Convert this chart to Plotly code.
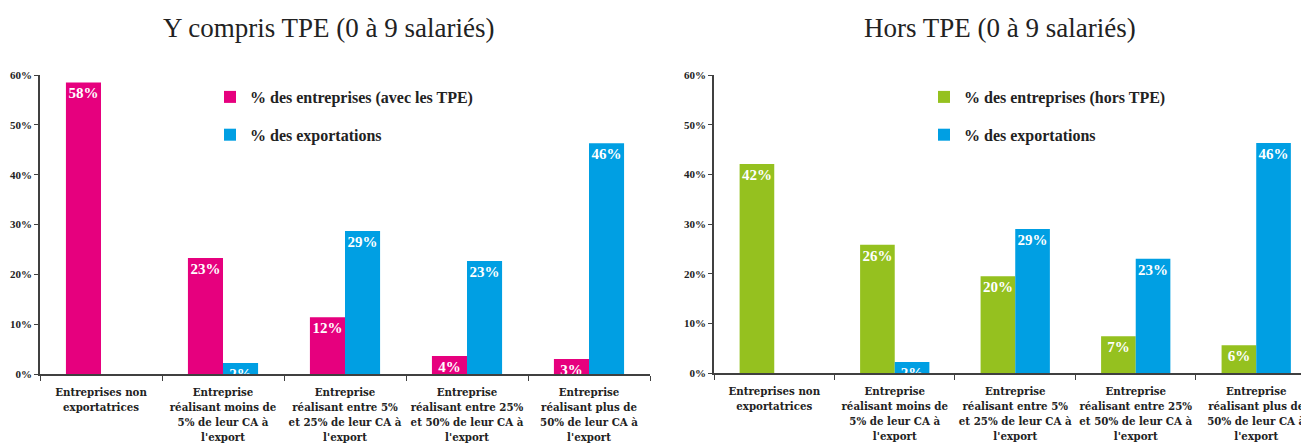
import plotly.graph_objects as go

categories = [
    "Entreprises non<br>exportatrices",
    "Entreprise<br>réalisant moins de<br>5% de leur CA à<br>l'export",
    "Entreprise<br>réalisant entre 5%<br>et 25% de leur CA à<br>l'export",
    "Entreprise<br>réalisant entre 25%<br>et 50% de leur CA à<br>l'export",
    "Entreprise<br>réalisant plus de<br>50% de leur CA à<br>l'export",
]
left_entreprises = [0.585, 0.233, 0.114, 0.036, 0.030]
left_entreprises_lbl = ["58%", "23%", "12%", "4%", "3%"]
left_exports = [None, 0.022, 0.287, 0.227, 0.463]
left_exports_lbl = ["", "2%", "29%", "23%", "46%"]
right_entreprises = [0.421, 0.258, 0.195, 0.074, 0.056]
right_entreprises_lbl = ["42%", "26%", "20%", "7%", "6%"]
right_exports = [None, 0.022, 0.290, 0.230, 0.463]
right_exports_lbl = ["", "2%", "29%", "23%", "46%"]

PINK = "#E6007E"
BLUE = "#009FE3"
GREEN = "#95C11F"
SERIF = "Liberation Serif"
TICKSERIF = "DejaVu Serif Condensed, Liberation Serif"

# the page body has an 8px margin: the figure starts at (8, 8) on screen
OFF = 8
W, H = 1309 - OFF, 444 - OFF


def px(xs):
    return (xs - OFF) / W


def py(ys):
    return (H - (ys - OFF)) / H


fig = go.Figure()


def bar(x, y, txt, color, name, xa, ya, legend, group):
    return go.Bar(
        x=x, y=y, text=txt, name=name, marker=dict(color=color, line=dict(width=0)),
        xaxis=xa, yaxis=ya, legend=legend, legendgroup=group,
        textposition="inside", insidetextanchor="end", constraintext="none",
        textangle=0,
        textfont=dict(family=SERIF, size=15, color="white", weight="bold"),
        cliponaxis=False, hoverinfo="skip",
    )


fig.add_trace(bar(categories, left_entreprises, left_entreprises_lbl, PINK,
                  "% des entreprises (avec les TPE)", "x", "y", "legend", "a"))
fig.add_trace(bar(categories, left_exports, left_exports_lbl, BLUE,
                  "% des exportations", "x", "y", "legend", "b"))
fig.add_trace(bar(categories, right_entreprises, right_entreprises_lbl, GREEN,
                  "% des entreprises (hors TPE)", "x2", "y2", "legend2", "c"))
fig.add_trace(bar(categories, right_exports, right_exports_lbl, BLUE,
                  "% des exportations", "x2", "y2", "legend2", "d"))

ydom_l = [py(374), py(75)]
ydom_r = [py(373), py(75)]
axis_font = dict(family=TICKSERIF, size=11.4, color="#222222", weight="bold")
ytick_font = dict(family=SERIF, size=11, color="#222222", weight="bold")

xcommon = dict(
    type="category", showline=True, linecolor="#404040", linewidth=1.5,
    ticks="outside", ticklen=5, tickcolor="#404040", tickson="boundaries",
    tickfont=axis_font, showgrid=False, zeroline=False, tickangle=0,
    automargin=False, ticklabelstandoff=7,
)
ycommon = dict(
    range=[0, 0.6], dtick=0.1, tickformat=".0%", showline=True,
    linecolor="#404040", linewidth=1.5, ticks="outside", ticklen=4,
    tickcolor="#404040", tickfont=ytick_font, showgrid=False, zeroline=False,
    automargin=False,
)

legend_font = dict(family=SERIF, size=16, color="#222222", weight="bold")

fig.update_layout(
    width=W, height=H, margin=dict(l=0, r=0, t=0, b=0, autoexpand=False),
    paper_bgcolor="white", plot_bgcolor="white",
    barmode="group", bargap=0.425, bargroupgap=0,
    xaxis=dict(domain=[px(40), px(650)], anchor="y", range=[-0.5, 4.5], **xcommon),
    yaxis=dict(domain=ydom_l, anchor="x", **ycommon),
    xaxis2=dict(domain=[px(714), 1.0], anchor="y2", range=[-0.5, 4.438], **xcommon),
    yaxis2=dict(domain=ydom_r, anchor="x2", **ycommon),
    legend=dict(x=px(210), y=py(80), xanchor="left", yanchor="top",
                bgcolor="rgba(0,0,0,0)", tracegroupgap=14, font=legend_font),
    legend2=dict(x=px(924), y=py(80), xanchor="left", yanchor="top",
                 bgcolor="rgba(0,0,0,0)", tracegroupgap=14, font=legend_font),
    annotations=[
        dict(text="Y compris TPE (0 à 9 salariés)", x=px(328), y=py(28),
             xanchor="center", yanchor="middle",
             xref="paper", yref="paper", showarrow=False,
             font=dict(family=SERIF, size=27, color="#222222")),
        dict(text="Hors TPE (0 à 9 salariés)", x=px(1000), y=py(28),
             xanchor="center", yanchor="middle",
             xref="paper", yref="paper", showarrow=False,
             font=dict(family=SERIF, size=27, color="#222222")),
    ],
)

fig.write_html("out.html")
